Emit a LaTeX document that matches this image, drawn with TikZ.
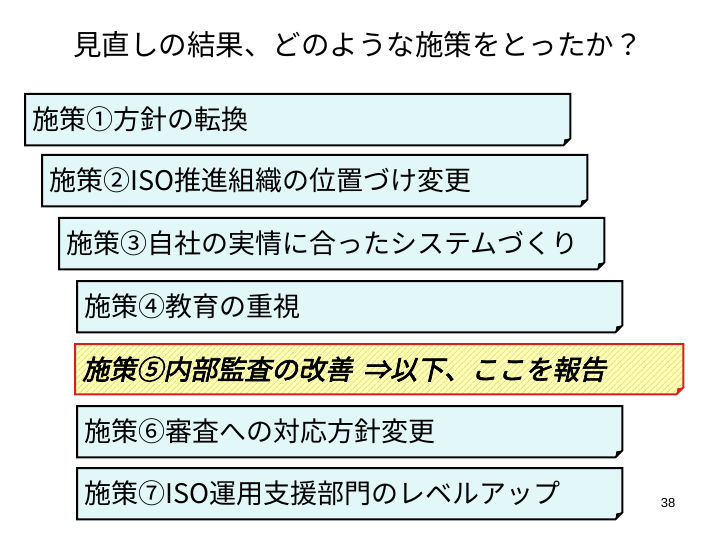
\documentclass[tikz,border=0pt]{standalone}
\usepackage{fontspec}
\setmainfont{Noto Sans CJK JP}
\newfontfamily\numfont{Liberation Sans}
\newfontfamily\keyfont[FakeSlant=0.22,FakeBold=2.5]{Noto Sans CJK JP}
\usetikzlibrary{patterns.meta,calc,backgrounds}
\definecolor{sBox}{HTML}{E2F8F8}
\definecolor{sKey}{HTML}{FFFFB4}
\definecolor{sHatch}{HTML}{E8DE8A}
\definecolor{sRed}{HTML}{D42020}
\tikzset{
  shisaku/.style={rectangle, anchor=north west, minimum width=545pt,
                  minimum height=51pt, text width=531pt, align=left,
                  inner xsep=7pt, inner ysep=0pt,
                  font=\fontsize{27}{30}\selectfont},
  keystep/.style={shisaku, minimum width=608pt, text width=594pt,
                  minimum height=50pt,
                  font=\keyfont\fontsize{27}{30}\selectfont},
  frame/.style={line width=2pt, fill=sBox},
  % the one step that the report goes on with: yellow, hatched, red edge
  keyframe/.style={line width=2pt, draw=sRed, preaction={fill=sKey},
                   pattern={Lines[angle=45, distance=4pt, line width=0.9pt]},
                   pattern color=sHatch},
  heading/.style={font=\fontsize{28.5}{30}\selectfont, inner sep=0pt},
  pageno/.style={font=\numfont\fontsize{13}{14}\selectfont, inner sep=0pt},
}
% outline of a step box: cut at the lower right, with the corner turned down
\newcommand{\stepframe}[3][frame]{%
  \filldraw[#1] (#3.north west) -- (#3.north east)
    -- ($(#3.south east)+(0,-7)$) -- ($(#3.south east)+(-7,0)$)
    -- (#3.south west) -- cycle;
  \fill[#2]
    ($(#3.south east)+(0,-7)$) -- ($(#3.south east)+(-7,0)$)
    -- ($(#3.south east)+(-6,-6)$) -- cycle;}

\begin{document}
\begin{tikzpicture}[x=1pt, y=-1pt]
\useasboundingbox (0,0) rectangle (720,540);

\node[heading] (title) at (358,45)
  {見直しの結果、どのような施策をとったか？};

%% ── the seven steps ───────────────────────────────────────────────────────
\node[shisaku] (s1) at (25,94)  {施策①方針の転換};
\node[shisaku] (s2) at (42,155) {施策②ISO推進組織の位置づけ変更};
\node[shisaku] (s3) at (59,218) {施策③自社の実情に合ったシステムづくり};
\node[shisaku] (s4) at (77,281) {施策④教育の重視};
\node[keystep] (s5) at (75,344) {施策⑤内部監査の改善\hspace{0.4em}⇒以下、ここを報告};
\node[shisaku] (s6) at (77,406) {施策⑥審査への対応方針変更};
\node[shisaku] (s7) at (77,468) {施策⑦ISO運用支援部門のレベルアップ};

\begin{scope}[on background layer]
  \fill[white] (0,0) rectangle (720,540);
  \stepframe{black}{s1}
  \stepframe{black}{s2}
  \stepframe{black}{s3}
  \stepframe{black}{s4}
  \stepframe[keyframe]{sRed}{s5}
  \stepframe{black}{s6}
  \stepframe{black}{s7}
\end{scope}

\node[pageno] (page) at (668,503) {38};

\end{tikzpicture}
\end{document}
